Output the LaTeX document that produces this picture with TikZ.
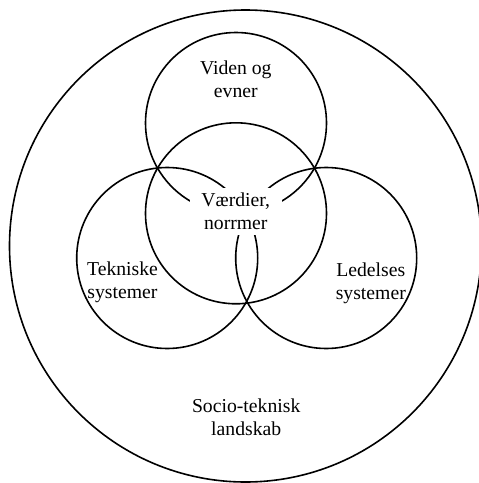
\documentclass[tikz,border=0pt]{standalone}
\usepackage{fontspec}
\setmainfont{Liberation Serif}
\begin{document}
\begin{tikzpicture}[x=1pt,y=-1pt,
  ring/.style={draw, circle, line width=1.6pt, minimum size=181pt, inner sep=0pt},
  landscape/.style={draw, circle, line width=1.6pt, minimum size=472pt, inner sep=0pt},
  lbl/.style={align=center, inner sep=0pt, font=\fontsize{19.7}{22.7}\selectfont}]
  \useasboundingbox (0,0) rectangle (479,483);
  \clip (0,0) rectangle (479,483);

  % outer landscape
  \node[landscape] (land) at (245.5,246) {};

  % the four overlapping domains
  \node[ring] (viden)    at (236,123)   {};
  \node[ring] (vaerdier) at (236,213.3) {};
  \node[ring] (teknisk)  at (167.2,258) {};
  \node[ring] (ledelse)  at (326.2,258) {};

  % labels
  \node[lbl] (tViden)  at (235.8,79)    {Viden og\\evner};
  \node[lbl] (tTek)    at (122.5,282.6) {Tekniske\\systemer};
  \node[lbl] (tLed)    at (370.8,283)   {Ledelses\\systemer};
  \node[lbl] (tSocio)  at (246.2,417.5) {Socio-teknisk\\landskab};
  \node[lbl, fill=white, minimum width=91.7pt, minimum height=47pt]
       (tVaerdi) at (235.8,211.5) {Værdier,\\norrmer};
\end{tikzpicture}
\end{document}
